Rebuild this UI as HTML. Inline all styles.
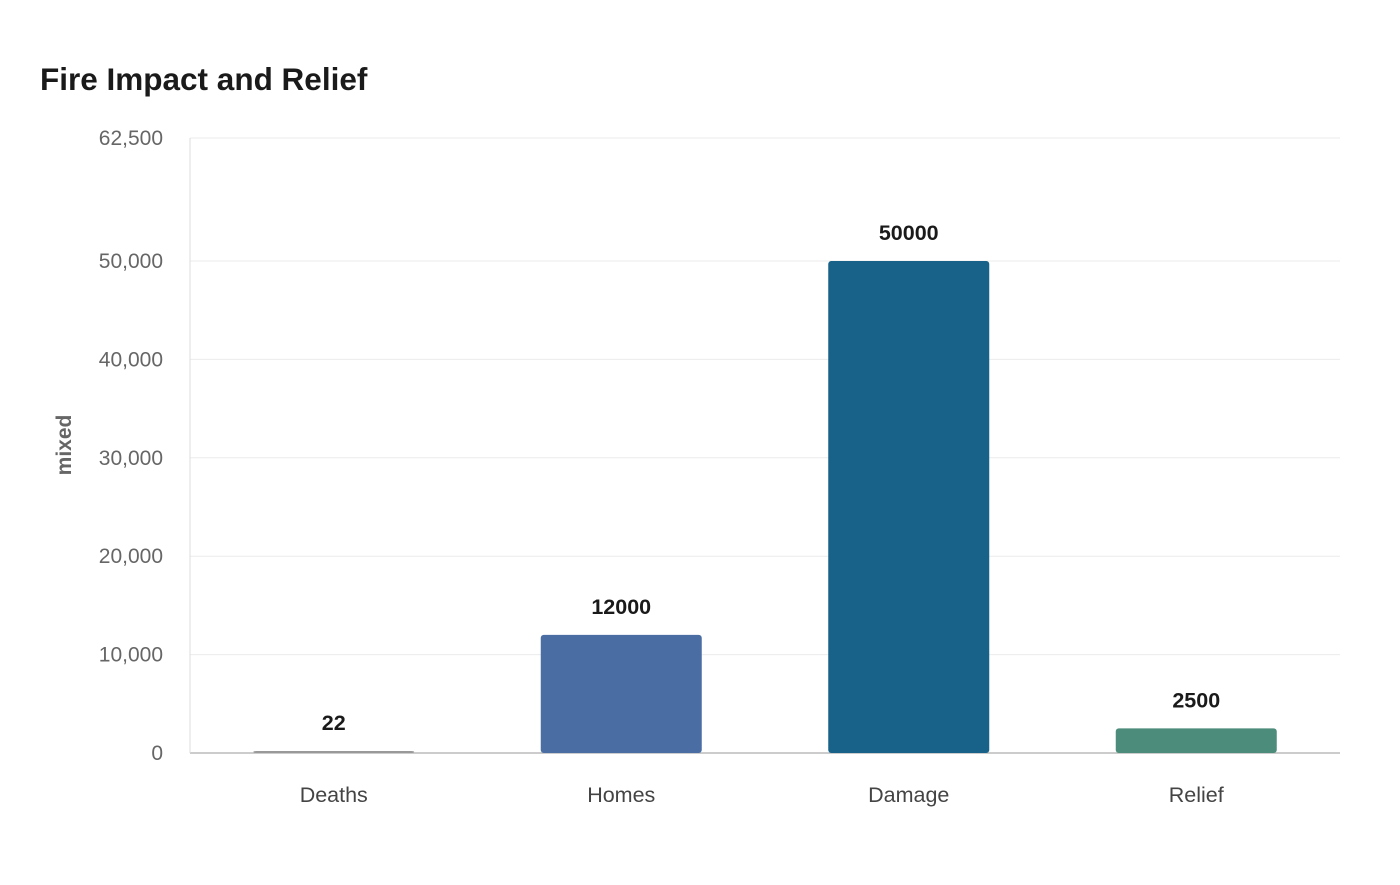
<!DOCTYPE html>
<html><head><meta charset="utf-8"><style>
body{margin:0;background:#fff;font-family:"Liberation Sans",sans-serif;}
svg text{font-family:"Liberation Sans",sans-serif;}
</style></head><body>
<svg id="chart" width="1400" height="880">
<text x="40" y="90" font-size="31.5" font-weight="bold" fill="#1a1a1a">Fire Impact and Relief</text>
<text transform="translate(71,445) rotate(-90)" text-anchor="middle" font-size="21" font-weight="bold" fill="#666">mixed</text>
<g id="grid"></g><g id="bars"></g>
</svg>
<script>
const categories=["Deaths","Homes","Damage","Relief"];
const values=[22,12000,50000,2500];
const colors=["#999999","#4a6da3","#186188","#4c8c7a"];
const ticks=[0,10000,20000,30000,40000,50000,62500];
const x0=190,x1=1340,y0=753,yMax=62500,yTop=138;
const ns="http://www.w3.org/2000/svg";
const y=v=>y0-(v/yMax)*(y0-yTop);
const band=(x1-x0)/categories.length;
const xc=i=>x0+band*(i+0.5);
const svg=document.getElementById('chart');
const g=document.getElementById('grid'),b=document.getElementById('bars');
function mk(t,a,p){const e=document.createElementNS(ns,t);for(const k in a)e.setAttribute(k,a[k]);p.appendChild(e);return e;}
ticks.forEach(t=>{
 const l=mk('line',{x1:x0,x2:x1,y1:y(t),y2:y(t),stroke:t===0?'#ccc':'#ebebeb','stroke-width':t===0?2:1},g);
 
 
 const tx=mk('text',{x:163,y:y(t)+7,'text-anchor':'end','font-size':21,fill:'#666'},g);
 tx.textContent=t.toLocaleString('en-US');
 
 
});
const ax=mk('line',{x1:x0,x2:x0,y1:yTop,y2:y0,stroke:'#ddd'},g);


const bw=161;
categories.forEach((c,i)=>{
 const top=y(values[i]),h=Math.max(y0-top,2);
 const r=mk('rect',{x:xc(i)-bw/2,y:y0-h,width:bw,height:h,rx:3,fill:colors[i]},b);
 
 
 const v=mk('text',{x:xc(i),y:y0-h-21,'text-anchor':'middle','font-size':21.5,'font-weight':'bold',fill:'#1a1a1a'},b);
 v.textContent=values[i];
 
 
 const xl=mk('text',{x:xc(i),y:802,'text-anchor':'middle','font-size':21.5,fill:'#444'},b);
 xl.textContent=c;
 
 
});
</script>
</body></html>
